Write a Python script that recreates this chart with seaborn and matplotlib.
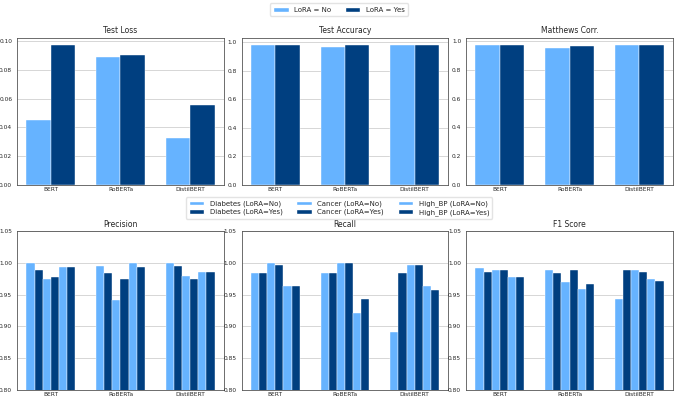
import matplotlib
matplotlib.use("Agg")
import matplotlib.pyplot as plt
import seaborn as sns
import pandas as pd
from matplotlib.patches import Patch

models = ["BERT", "RoBERTa", "DistilBERT"]

# Top row: overall metrics, (LoRA=No, LoRA=Yes) per model
test_loss_no = [0.0453, 0.0885, 0.0326]
test_loss_yes = [0.0975, 0.0901, 0.0552]
test_acc_no = [0.985, 0.968, 0.985]
test_acc_yes = [0.985, 0.980, 0.984]
mcc_no = [0.975, 0.950, 0.977]
mcc_yes = [0.973, 0.968, 0.972]

# Bottom row: per-disease metrics, order per model:
# Diabetes No, Diabetes Yes, Cancer No, Cancer Yes, High_BP No, High_BP Yes
series_labels = ["Diabetes (LoRA=No)", "Diabetes (LoRA=Yes)",
                 "Cancer (LoRA=No)", "Cancer (LoRA=Yes)",
                 "High_BP (LoRA=No)", "High_BP (LoRA=Yes)"]
precision = {
    "BERT":       [1.000, 0.989, 0.974, 0.978, 0.993, 0.993],
    "RoBERTa":    [0.995, 0.984, 0.941, 0.975, 1.000, 0.993],
    "DistilBERT": [1.000, 0.995, 0.979, 0.975, 0.986, 0.986],
}
recall = {
    "BERT":       [0.984, 0.984, 1.000, 0.996, 0.964, 0.964],
    "RoBERTa":    [0.984, 0.984, 1.000, 1.000, 0.921, 0.943],
    "DistilBERT": [0.891, 0.984, 0.996, 0.996, 0.964, 0.957],
}
f1 = {
    "BERT":       [0.992, 0.986, 0.988, 0.988, 0.978, 0.978],
    "RoBERTa":    [0.989, 0.984, 0.970, 0.988, 0.959, 0.967],
    "DistilBERT": [0.943, 0.989, 0.988, 0.985, 0.974, 0.971],
}

light = "#66b3ff"
dark = "#003f80"

sns.set_style("white")
plt.rcParams["font.family"] = ["DejaVu Sans"]

fig = plt.figure(figsize=(6.78, 3.98), dpi=100)
W, H = 678, 398
L, R = 17 / W, 673 / W
gs_top = fig.add_gridspec(1, 3, left=L, right=R, top=1 - 37.5 / H, bottom=1 - 185 / H, wspace=0.085)
gs_bot = fig.add_gridspec(1, 3, left=L, right=R, top=1 - 231 / H, bottom=1 - 390 / H, wspace=0.085)


def style_ax(ax, title):
    ax.set_title(title, fontsize=5.5, pad=3)
    ax.set_xlabel("")
    ax.set_ylabel("")
    ax.tick_params(axis="both", labelsize=4.2, length=2, width=0.5, pad=1.5)
    ax.tick_params(axis="x", length=0)
    ax.yaxis.grid(True, color="#d0d0d0", linewidth=0.6)
    ax.set_axisbelow(True)
    for s in ax.spines.values():
        s.set_color("#555555")
        s.set_linewidth(0.6)
    ax.set_xlim(-0.485, 2.485)


top = [("Test Loss", test_loss_no, test_loss_yes),
       ("Test Accuracy", test_acc_no, test_acc_yes),
       ("Matthews Corr.", mcc_no, mcc_yes)]
for i, (title, no, yes) in enumerate(top):
    ax = fig.add_subplot(gs_top[0, i])
    df = pd.DataFrame({
        "Model": models * 2,
        "Value": no + yes,
        "LoRA": ["No"] * 3 + ["Yes"] * 3,
    })
    sns.barplot(data=df, x="Model", y="Value", hue="LoRA", order=models,
                hue_order=["No", "Yes"], palette=[light, dark], width=0.7,
                gap=0, edgecolor="white", linewidth=0.3, legend=False, ax=ax,
                saturation=1)
    style_ax(ax, title)

bottom = [("Precision", precision), ("Recall", recall), ("F1 Score", f1)]
pal6 = [light, dark] * 3
for i, (title, d) in enumerate(bottom):
    ax = fig.add_subplot(gs_bot[0, i])
    rows = []
    for m in models:
        for lab, v in zip(series_labels, d[m]):
            rows.append({"Model": m, "Series": lab, "Value": v})
    df = pd.DataFrame(rows)
    sns.barplot(data=df, x="Model", y="Value", hue="Series", order=models,
                hue_order=series_labels, palette=pal6, width=0.7, gap=0,
                edgecolor="white", linewidth=0.3, legend=False, ax=ax,
                saturation=1)
    ax.set_ylim(0.80, 1.05)
    ticks = [0.80, 0.85, 0.90, 0.95, 1.00, 1.05]
    ax.set_yticks(ticks)
    ax.set_yticklabels([f"{t:.2f}" for t in ticks])
    style_ax(ax, title)

leg_kw = dict(fontsize=5, frameon=True, edgecolor="#dddddd", handlelength=2.2,
              handleheight=0.7, borderpad=0.45, columnspacing=2.0, handletextpad=0.8,
              labelspacing=0.25)
top_handles = [Patch(facecolor=light), Patch(facecolor=dark)]
fig.legend(top_handles, ["LoRA = No", "LoRA = Yes"], loc="upper center",
           bbox_to_anchor=(0.5, 1.0), ncol=2, **leg_kw)

bot_handles = [Patch(facecolor=c) for c in pal6]
fig.legend(bot_handles, series_labels, loc="center",
           bbox_to_anchor=(0.5, 1 - 208 / H), ncol=3, **leg_kw)

fig.savefig("out.png", dpi=100, facecolor="white")
